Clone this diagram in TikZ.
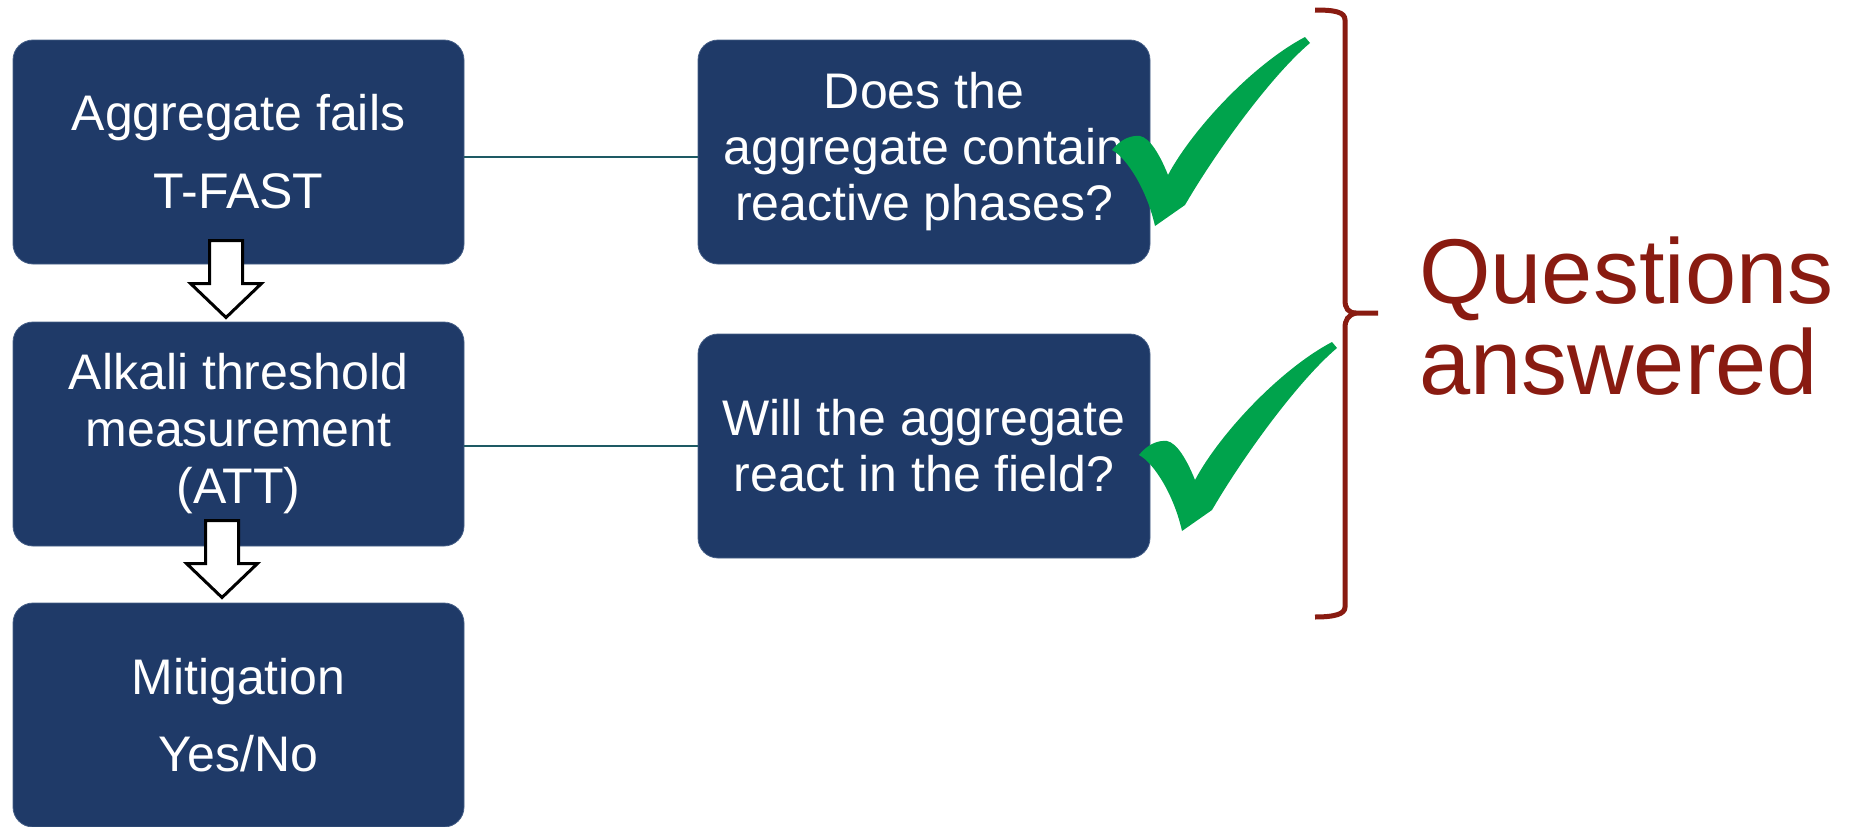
\documentclass[tikz,border=0pt]{standalone}
\usepackage{fontspec}
\setmainfont{Liberation Sans}
\definecolor{boxnavy}{RGB}{31,58,104}
\definecolor{boxedge}{RGB}{70,95,135}
\definecolor{linkteal}{RGB}{30,90,100}
\definecolor{tickgreen}{RGB}{0,163,76}
\definecolor{bracered}{RGB}{137,27,17}
\tikzset{
  flowbox/.style={rectangle, rounded corners=20pt, fill=boxnavy, draw=boxedge, line width=0.8pt,
    minimum width=451pt, minimum height=224pt, text=white, align=center, inner sep=0pt},
  link/.style={draw=linkteal, line width=2pt},
  blockarrow/.pic={\draw[fill=white, draw=black, line width=3pt, line join=miter]
     (-16.5,0) -- (16.5,0) -- (16.5,43) -- (35.5,43) -- (0,77) -- (-35.5,43) -- (-16.5,43) -- cycle;},
  tick/.pic={\fill[tickgreen] (0,0) .. controls (8,-10) and (18,-15) .. (28,-14)
     .. controls (38,-12) and (48,5) .. (56,25)
     .. controls (80,-20) and (140,-85) .. (193,-113) -- (198,-107)
     .. controls (160,-75) and (105,0) .. (73,55) -- (43,76)
     .. controls (35,40) and (15,8) .. (0,0) -- cycle;}
}
\begin{document}
\begin{tikzpicture}[x=1pt,y=-1pt]
\useasboundingbox (0,0) rectangle (1864,827);
% left column
\node[flowbox, font=\fontsize{50}{78}\selectfont] (b1) at (238.5,152) {Aggregate fails\\T-FAST};
\node[flowbox, font=\fontsize{50}{57}\selectfont] (b2) at (238.5,434) {Alkali threshold\\measurement\\(ATT)};
\node[flowbox, font=\fontsize{50}{77}\selectfont] (b3) at (238.5,715) {Mitigation\\Yes/No};
% right column
\node[flowbox, minimum width=452pt, font=\fontsize{50}{56}\selectfont] (q1) at (924,152) {Does the\\aggregate contain\\reactive phases?};
\node[flowbox, minimum width=452pt, font=\fontsize{50}{56}\selectfont] (q2) at (924,446) {Will the aggregate\\react in the field?};
% links
\draw[link] ([yshift=-5pt]b1.east) -- ([yshift=-5pt]q1.west);
\draw[link] (b2.east |- q2.west) -- (q2.west);
% block arrows
\pic at (226,240.5) {blockarrow};
\pic at (222,520.5) {blockarrow};
% ticks
\pic at (1112,150) {tick};
\pic at (1139,455) {tick};
% brace
\draw[bracered, line width=5pt]
  (1315,10) .. controls (1335,10) and (1345,12) .. (1345,20) -- (1345,300)
  .. controls (1345,308) and (1348,313) .. (1356,313) -- (1378,313);
\draw[bracered, line width=5pt]
  (1356,313) .. controls (1348,315) and (1345,320) .. (1345,328) -- (1345,607)
  .. controls (1345,614) and (1335,617) .. (1315,617);
% label
\node[text=bracered, anchor=base west, align=left, inner sep=0pt,
  font=\fontsize{92}{91}\selectfont] (ans) at (1419,394) {Questions\\answered};
\end{tikzpicture}
\end{document}
